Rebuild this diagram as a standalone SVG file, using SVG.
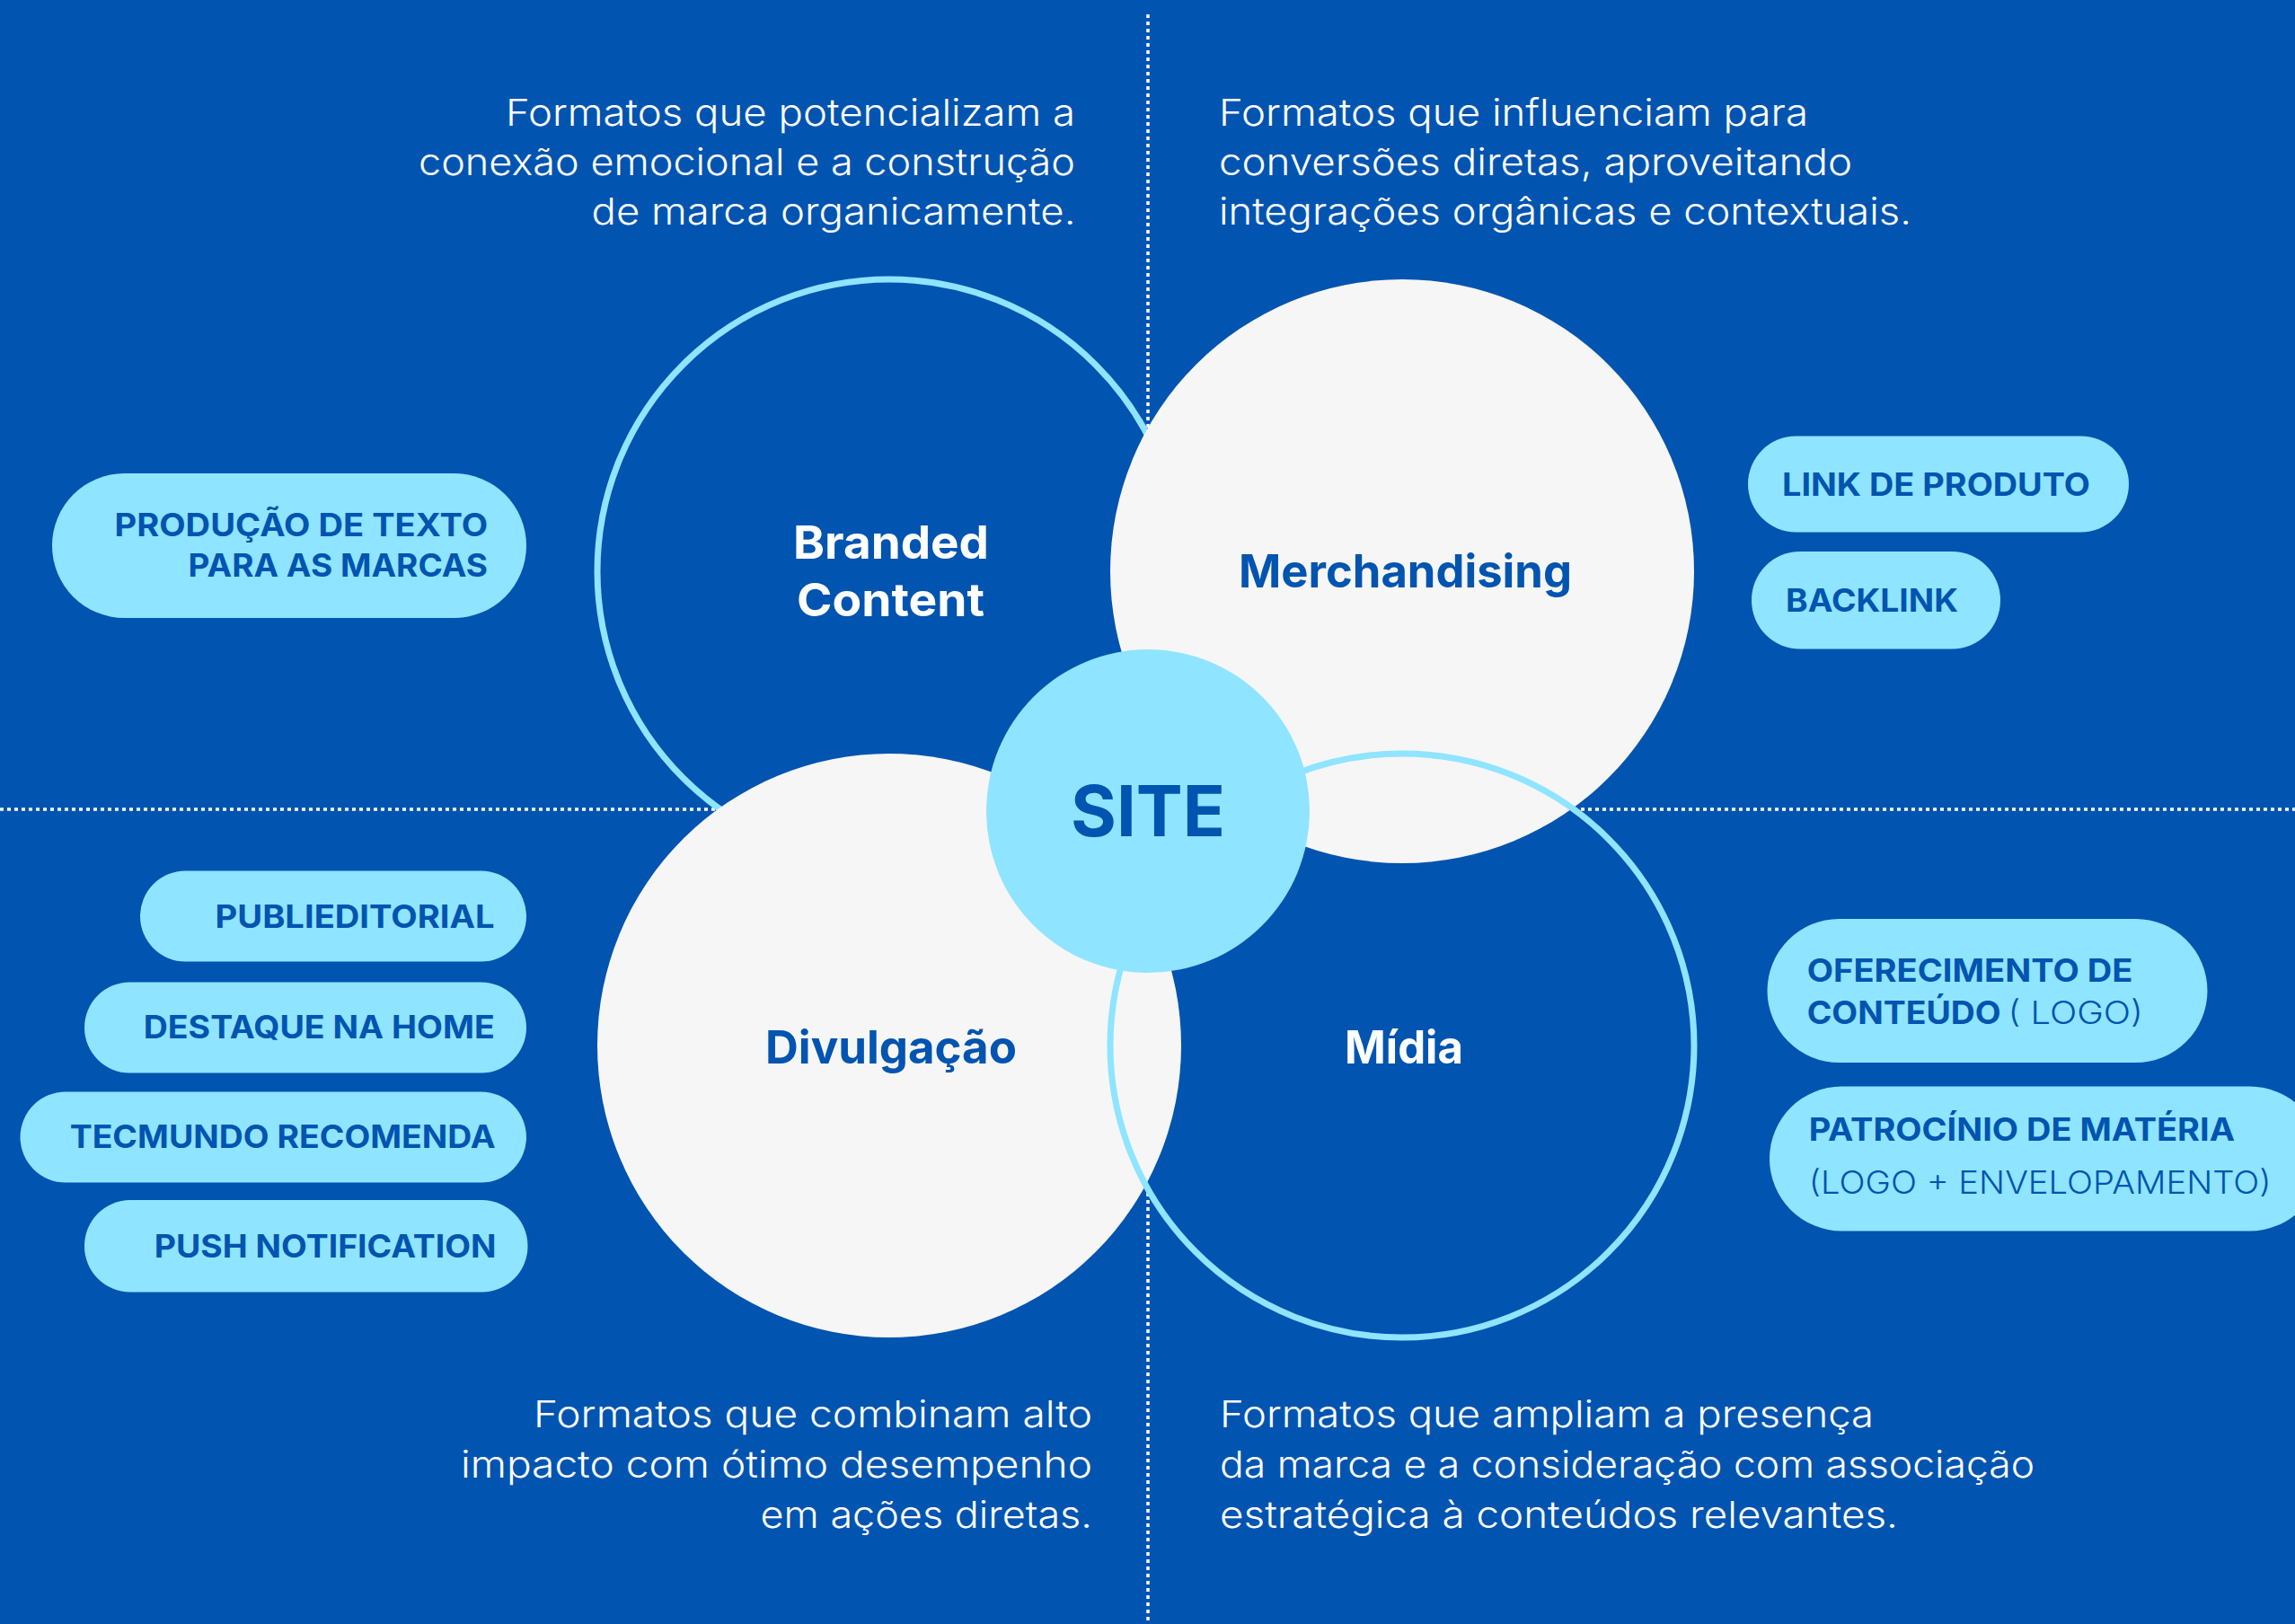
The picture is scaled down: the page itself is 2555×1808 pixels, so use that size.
<svg xmlns="http://www.w3.org/2000/svg" width="2555" height="1808" viewBox="0 0 2555 1808">
<style>
.desc{font-family:Inter,"Noto Sans",sans-serif;font-weight:300;font-size:41px;fill:#FFFFFF}
.pill{fill:#8FE4FF}
.pt{font-family:Inter,"Noto Sans",sans-serif;font-weight:700;font-size:35px;fill:#0154B0}
.pl{font-family:Inter,"Noto Sans",sans-serif;font-weight:300;font-size:35px;fill:#0154B0}
.lbl{font-family:Inter,"Noto Sans",sans-serif;font-weight:700;font-size:51px}
.div{stroke:#FFFFFF;stroke-width:3.5;stroke-dasharray:4 4;fill:none}
.ring{fill:#0154B0;stroke:#8FE4FF;stroke-width:7}
.white{fill:#F6F6F6}
</style>
<rect x="0" y="0" width="2555" height="1808" fill="#0154B0"/>
<g id="dividers">
<line class="div" x1="1278" y1="16" x2="1278" y2="1808"/>
<line class="div" x1="0" y1="901" x2="2555" y2="901"/>
</g>
<g id="branded-content">
<circle class="ring" cx="990" cy="636" r="325"/>
<text class="lbl" fill="#FFFFFF" x="883" y="622" textLength="218" lengthAdjust="spacingAndGlyphs">Branded</text>
<text class="lbl" fill="#FFFFFF" x="887" y="686" textLength="209" lengthAdjust="spacingAndGlyphs">Content</text>
</g>
<g id="midia">
<circle cx="1561" cy="1164" r="325" fill="#0154B0"/>
</g>
<g id="merchandising">
<circle class="white" cx="1561" cy="636" r="325"/>
<text class="lbl" fill="#0154B0" x="1379" y="654" textLength="371" lengthAdjust="spacingAndGlyphs">Merchandising</text>
</g>
<g id="divulgacao">
<circle class="white" cx="990" cy="1164" r="325"/>
<text class="lbl" fill="#0154B0" x="852" y="1184" textLength="280" lengthAdjust="spacingAndGlyphs">Divulgação</text>
</g>
<g id="midia-ring">
<circle cx="1561" cy="1164" r="325" fill="none" stroke="#8FE4FF" stroke-width="7"/>
<text class="lbl" fill="#FFFFFF" x="1497" y="1184" textLength="132" lengthAdjust="spacingAndGlyphs">Mídia</text>
</g>
<g id="site">
<circle cx="1278" cy="903" r="180" fill="#8FE4FF"/>
<text font-family="Inter,'Noto Sans',sans-serif" font-weight="700" font-size="78" fill="#0154B0" x="1192" y="931" textLength="172" lengthAdjust="spacingAndGlyphs">SITE</text>
</g>
<g id="desc-top-left">
<text class="desc" x="563" y="140" textLength="634" lengthAdjust="spacingAndGlyphs">Formatos que potencializam a</text>
<text class="desc" x="466" y="195" textLength="731" lengthAdjust="spacingAndGlyphs">conexão emocional e a construção</text>
<text class="desc" x="658.5" y="250" textLength="539" lengthAdjust="spacingAndGlyphs">de marca organicamente.</text>
</g>
<g id="desc-top-right">
<text class="desc" x="1357" y="140" textLength="656" lengthAdjust="spacingAndGlyphs">Formatos que influenciam para</text>
<text class="desc" x="1357" y="195" textLength="705" lengthAdjust="spacingAndGlyphs">conversões diretas, aproveitando</text>
<text class="desc" x="1357" y="250" textLength="771" lengthAdjust="spacingAndGlyphs">integrações orgânicas e contextuais.</text>
</g>
<g id="desc-bottom-left">
<text class="desc" x="594" y="1589" textLength="622" lengthAdjust="spacingAndGlyphs">Formatos que combinam alto</text>
<text class="desc" x="513" y="1645" textLength="703" lengthAdjust="spacingAndGlyphs">impacto com ótimo desempenho</text>
<text class="desc" x="846.5" y="1701" textLength="369.5" lengthAdjust="spacingAndGlyphs">em ações diretas.</text>
</g>
<g id="desc-bottom-right">
<text class="desc" x="1358" y="1589" textLength="728" lengthAdjust="spacingAndGlyphs">Formatos que ampliam a presença</text>
<text class="desc" x="1358" y="1645" textLength="907" lengthAdjust="spacingAndGlyphs">da marca e a consideração com associação</text>
<text class="desc" x="1358" y="1701" textLength="755" lengthAdjust="spacingAndGlyphs">estratégica à conteúdos relevantes.</text>
</g>
<g id="pill-producao">
<rect class="pill" x="58" y="527" width="528" height="161" rx="80.5"/>
<text class="pt" x="127.5" y="597" textLength="415.5" lengthAdjust="spacingAndGlyphs">PRODUÇÃO DE TEXTO</text>
<text class="pt" x="209.6" y="642" textLength="333.5" lengthAdjust="spacingAndGlyphs">PARA AS MARCAS</text>
</g>
<g id="pill-link">
<rect class="pill" x="1946" y="485.5" width="424" height="107" rx="53.5"/>
<text class="pt" x="1984" y="552" textLength="343" lengthAdjust="spacingAndGlyphs">LINK DE PRODUTO</text>
</g>
<g id="pill-backlink">
<rect class="pill" x="1950" y="614" width="277" height="108.5" rx="54"/>
<text class="pt" x="1988" y="681" textLength="192" lengthAdjust="spacingAndGlyphs">BACKLINK</text>
</g>
<g id="pill-publieditorial">
<rect class="pill" x="156" y="969.5" width="430" height="101" rx="50.5"/>
<text class="pt" x="239.5" y="1033" textLength="311" lengthAdjust="spacingAndGlyphs">PUBLIEDITORIAL</text>
</g>
<g id="pill-destaque">
<rect class="pill" x="94" y="1093.5" width="492" height="101" rx="50.5"/>
<text class="pt" x="159.7" y="1156" textLength="391" lengthAdjust="spacingAndGlyphs">DESTAQUE NA HOME</text>
</g>
<g id="pill-tecmundo">
<rect class="pill" x="22.5" y="1215.5" width="563.5" height="101" rx="50.5"/>
<text class="pt" x="77.7" y="1278" textLength="474" lengthAdjust="spacingAndGlyphs">TECMUNDO RECOMENDA</text>
</g>
<g id="pill-push">
<rect class="pill" x="94" y="1336" width="493.5" height="102.5" rx="51"/>
<text class="pt" x="171.8" y="1399.5" textLength="380.7" lengthAdjust="spacingAndGlyphs">PUSH NOTIFICATION</text>
</g>
<g id="pill-oferecimento">
<rect class="pill" x="1967.5" y="1023" width="490" height="160" rx="80"/>
<text class="pt" x="2011.7" y="1093" textLength="362.7" lengthAdjust="spacingAndGlyphs">OFERECIMENTO DE</text>
<text class="pt" x="2011.7" y="1139.5" textLength="216" lengthAdjust="spacingAndGlyphs">CONTEÚDO</text>
<text class="pl" x="2235.5" y="1139.5" textLength="150.5" lengthAdjust="spacingAndGlyphs">( LOGO)</text>
</g>
<g id="pill-patrocinio">
<rect class="pill" x="1970" y="1209.5" width="615" height="161" rx="80.5"/>
<text class="pt" x="2013.7" y="1270" textLength="474.3" lengthAdjust="spacingAndGlyphs">PATROCÍNIO DE MATÉRIA</text>
<text class="pl" x="2013.7" y="1328.5" textLength="515" lengthAdjust="spacingAndGlyphs">(LOGO + ENVELOPAMENTO)</text>
</g>
</svg>
